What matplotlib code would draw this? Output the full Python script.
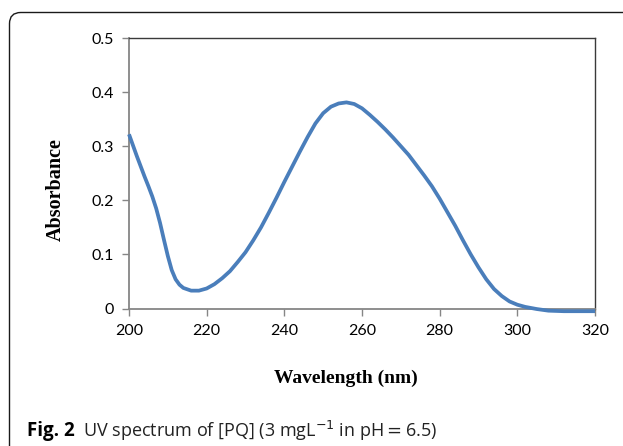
import matplotlib
matplotlib.use("Agg")
import matplotlib.pyplot as plt
from matplotlib.patches import FancyBboxPatch
from matplotlib.ticker import FuncFormatter

wavelength = [200, 202, 204, 205, 206, 207, 208, 209, 210, 211, 212, 213, 214, 216,
              218, 220, 222, 224, 226, 228, 230, 232, 234, 236, 238, 240, 242, 244,
              246, 248, 250, 252, 254, 256, 258, 260, 262, 264, 266, 268, 270, 272,
              274, 276, 278, 280, 282, 284, 286, 288, 290, 292, 294, 296, 298, 300,
              302, 305, 308, 312, 316, 320]
absorbance = [0.322, 0.282, 0.244, 0.226, 0.207, 0.185, 0.158, 0.127, 0.097, 0.071,
              0.054, 0.044, 0.038, 0.033, 0.033, 0.037, 0.045, 0.056, 0.069, 0.086,
              0.104, 0.126, 0.150, 0.177, 0.205, 0.234, 0.262, 0.290, 0.317, 0.342,
              0.361, 0.373, 0.379, 0.381, 0.378, 0.370, 0.358, 0.345, 0.331, 0.316,
              0.300, 0.284, 0.265, 0.246, 0.226, 0.203, 0.178, 0.153, 0.126, 0.100,
              0.076, 0.054, 0.036, 0.023, 0.013, 0.007, 0.003, -0.001, -0.004,
              -0.005, -0.005, -0.005]
x_ticks = [200, 220, 240, 260, 280, 300, 320]
y_ticks = [0, 0.1, 0.2, 0.3, 0.4, 0.5]

W, H = 623, 446
fig = plt.figure(figsize=(W / 100, H / 100), dpi=100)
ax = fig.add_axes([129 / W, 1 - 308.5 / H, (595 - 129) / W, (308.5 - 38) / H])

ax.plot(wavelength, absorbance, color="#4A7EBB", lw=2.7, clip_on=False,
        solid_joinstyle="round", solid_capstyle="butt", zorder=3)
ax.set_xlim(200, 320)
ax.set_ylim(0, 0.5)
ax.set_xticks(x_ticks)
ax.set_yticks(y_ticks)
ax.yaxis.set_major_formatter(FuncFormatter(lambda v, p: "0" if v == 0 else f"{v:g}"))

tick_font = "Lato"
for lbl in ax.get_xticklabels() + ax.get_yticklabels():
    lbl.set_fontfamily(tick_font)
    lbl.set_fontsize(11.5)
    lbl.set_color("#000000")
ax.tick_params(axis="both", direction="out", length=5, width=1, color="#868686")
ax.tick_params(axis="x", pad=6)
ax.tick_params(axis="y", pad=6)

for side in ["left", "bottom"]:
    ax.spines[side].set_color("#868686")
    ax.spines[side].set_linewidth(1.3)
for side in ["top", "right"]:
    ax.spines[side].set_color("#3a3a3a")
    ax.spines[side].set_linewidth(1.0)

fig.text(56 / W, 1 - 190 / H, "Absorbance", rotation=90, ha="center", va="center",
         family="Liberation Serif", weight="bold", fontsize=14.5)
fig.text(346 / W, 1 - 378 / H, "Wavelength (nm)", ha="center", va="center",
         family="Liberation Serif", weight="bold", fontsize=14)

# caption
t1 = fig.text(27 / W, 1 - 431 / H, "Fig. 2", ha="left", va="center",
              family="Open Sans", weight="bold", fontsize=13.5)
fig.canvas.draw()
bb = t1.get_window_extent()
fig.text((bb.x1 + 8) / W, 1 - 431 / H,
         r"UV spectrum of [PQ] (3 mgL$^{-1}$ in pH$=$6.5)", ha="left", va="center",
         family="Open Sans", fontsize=13, color="#222222")

# rounded border box
box = FancyBboxPatch((9.5 / W, -0.2), 1.2, 1 - 12.5 / H + 0.2,
                     boxstyle="round,pad=0,rounding_size=0.018",
                     transform=fig.transFigure, fill=False, ec="#1a1a1a", lw=1.0,
                     mutation_aspect=W / H)
fig.patches.append(box)

fig.savefig("out.png", dpi=100)
